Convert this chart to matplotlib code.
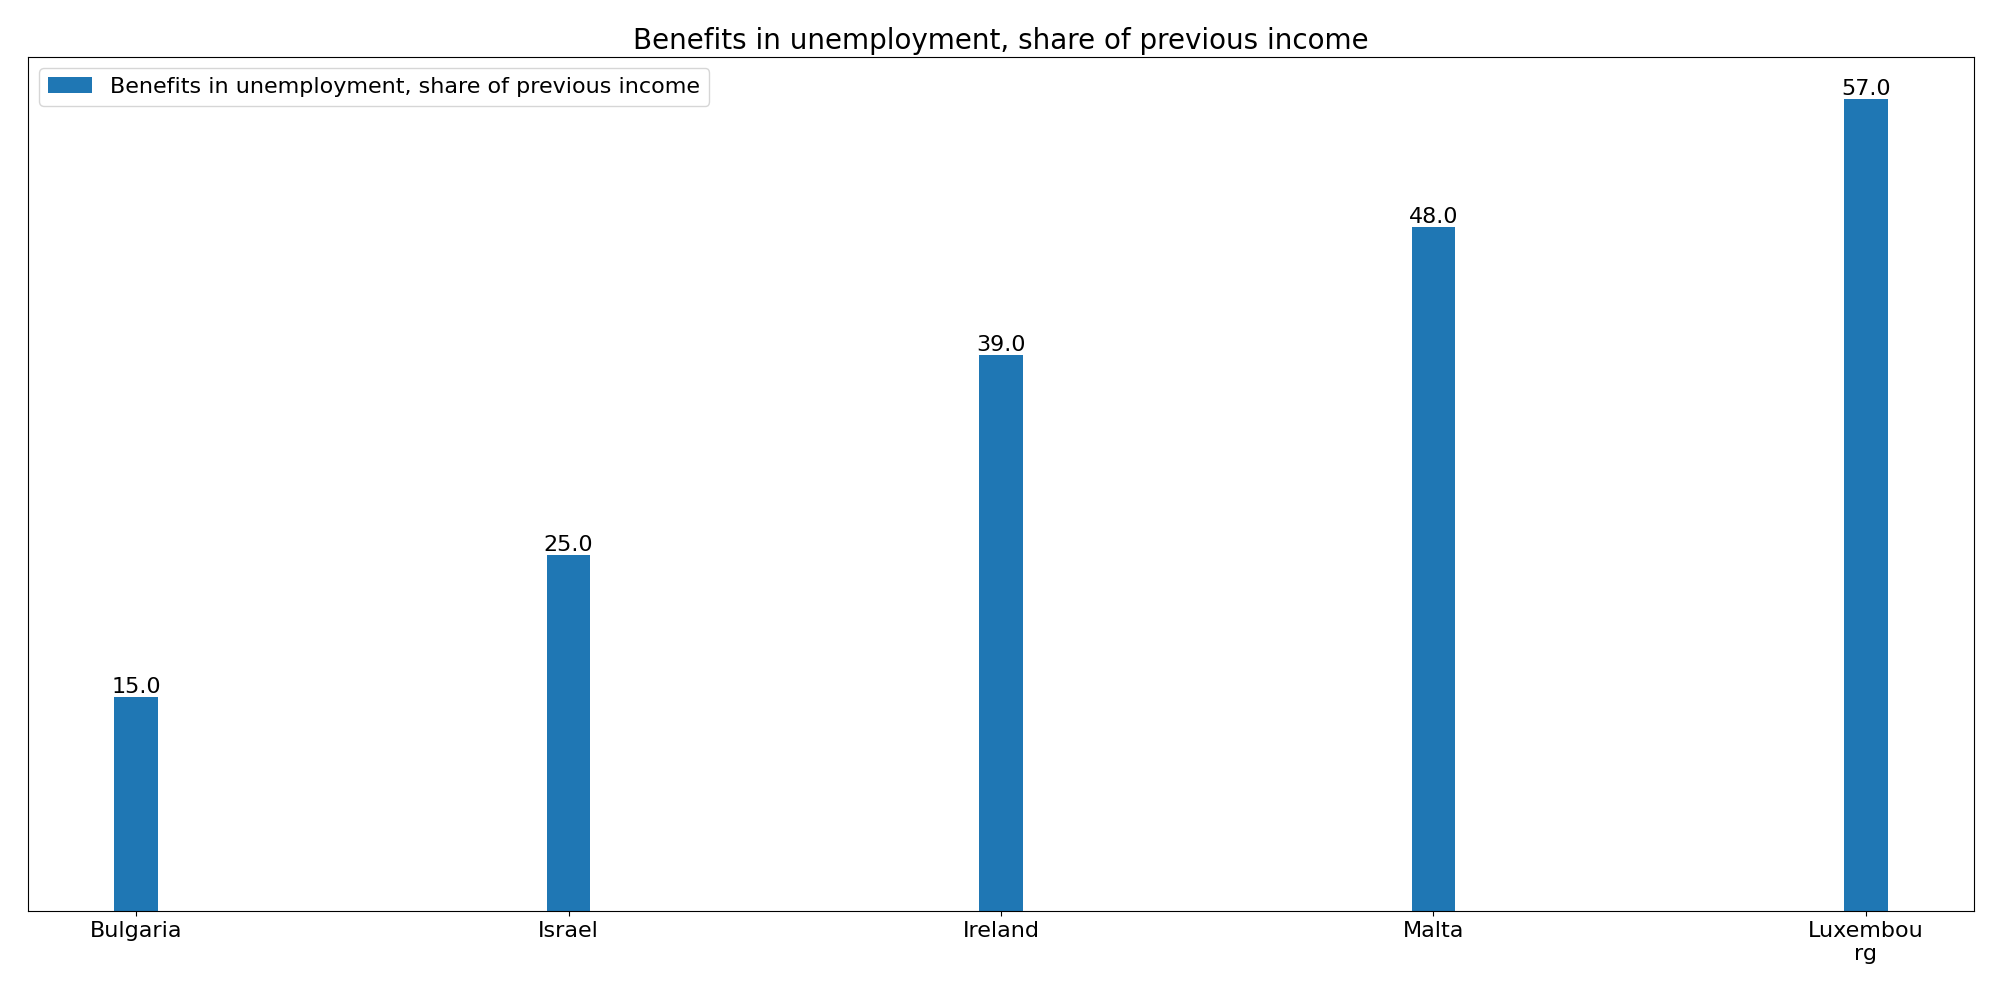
import matplotlib
matplotlib.use("Agg")
import matplotlib.pyplot as plt

countries = ["Bulgaria", "Israel", "Ireland", "Malta", "Luxembou\nrg"]
values = [15.0, 25.0, 39.0, 48.0, 57.0]
series = "Benefits in unemployment, share of previous income"

fig = plt.figure(figsize=(20, 10), dpi=100)
ax = fig.add_axes([0.014, 0.089, 0.973, 0.854])
x = list(range(len(countries)))
bars = ax.bar(x, values, width=0.1, color="#1f77b4", label=series)
ax.bar_label(bars, labels=[f"{v:.1f}" for v in values], fontsize=16)
ax.set_xticks(x)
ax.set_xticklabels(countries, fontsize=16)
ax.set_yticks([])
ax.set_xlim(-0.25, 4.25)
ax.set_ylim(0, 59.95)
ax.set_title(series, fontsize=20)
ax.legend(loc="upper left", fontsize=16)
fig.savefig("out.png")
